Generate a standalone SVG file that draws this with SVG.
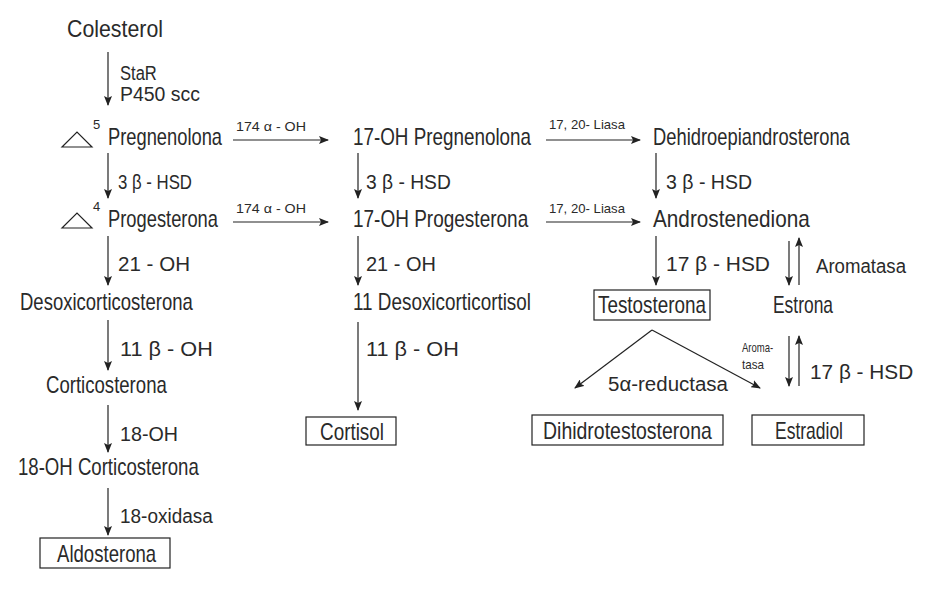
<svg xmlns="http://www.w3.org/2000/svg" width="950" height="600" viewBox="0 0 950 600">
<style>
text{font-family:"Liberation Sans",Arial,sans-serif;fill:#2a2a2a;}
.t{font-size:23px;}
.s{font-size:13px;}
.l{font-size:21px;}
line{stroke:#222;stroke-width:1.2;}
.box{fill:none;stroke:#222;stroke-width:1.2;}
</style>
<defs>
<marker id="ah" markerWidth="10" markerHeight="8" refX="9" refY="4" orient="auto" markerUnits="userSpaceOnUse">
<path d="M0,0 L10,4 L0,8 L2,4 Z" fill="#222"/>
</marker>
</defs>
<rect width="950" height="600" fill="#fff"/>
<g id="connectors">
<line x1="108" y1="52" x2="108" y2="105" marker-end="url(#ah)"/>
<line x1="233" y1="140" x2="328" y2="140" marker-end="url(#ah)"/>
<line x1="546" y1="140" x2="640" y2="140" marker-end="url(#ah)"/>
<line x1="108" y1="153" x2="108" y2="198" marker-end="url(#ah)"/>
<line x1="358" y1="153" x2="358" y2="198" marker-end="url(#ah)"/>
<line x1="656" y1="153" x2="656" y2="198" marker-end="url(#ah)"/>
<line x1="233" y1="222" x2="328" y2="222" marker-end="url(#ah)"/>
<line x1="546" y1="222" x2="640" y2="222" marker-end="url(#ah)"/>
<line x1="108" y1="236" x2="108" y2="285" marker-end="url(#ah)"/>
<line x1="358" y1="236" x2="358" y2="285" marker-end="url(#ah)"/>
<line x1="656" y1="236" x2="656" y2="285" marker-end="url(#ah)"/>
<line x1="789" y1="241" x2="789" y2="285" marker-end="url(#ah)"/>
<line x1="799" y1="285" x2="799" y2="238" marker-end="url(#ah)"/>
<line x1="108" y1="320" x2="108" y2="370" marker-end="url(#ah)"/>
<line x1="358" y1="322" x2="358" y2="410" marker-end="url(#ah)"/>
<line x1="652" y1="330" x2="575" y2="388" marker-end="url(#ah)"/>
<line x1="652" y1="330" x2="760" y2="388" marker-end="url(#ah)"/>
<line x1="789" y1="336" x2="789" y2="386" marker-end="url(#ah)"/>
<line x1="799" y1="386" x2="799" y2="336" marker-end="url(#ah)"/>
<line x1="108" y1="405" x2="108" y2="452" marker-end="url(#ah)"/>
<line x1="108" y1="488" x2="108" y2="535" marker-end="url(#ah)"/>
</g>
<g id="labels">
<text class="l" transform="translate(120,80) scale(0.8,1)" textLength="46" lengthAdjust="spacingAndGlyphs">StaR</text>
<text class="l" transform="translate(120,101) scale(0.8,1)" textLength="100" lengthAdjust="spacingAndGlyphs">P450 scc</text>
<text class="s" transform="translate(236,131) scale(0.8,1)" textLength="87.5" lengthAdjust="spacingAndGlyphs">174 α - OH</text>
<text class="s" transform="translate(236,213) scale(0.8,1)" textLength="87.5" lengthAdjust="spacingAndGlyphs">174 α - OH</text>
<text class="s" transform="translate(549,129) scale(0.8,1)" textLength="95" lengthAdjust="spacingAndGlyphs">17, 20- Liasa</text>
<text class="s" transform="translate(549,213) scale(0.8,1)" textLength="95" lengthAdjust="spacingAndGlyphs">17, 20- Liasa</text>
<text class="l" transform="translate(118,189) scale(0.8,1)" textLength="92.5" lengthAdjust="spacingAndGlyphs">3 β - HSD</text>
<text class="l" transform="translate(366,189) scale(0.8,1)" textLength="106" lengthAdjust="spacingAndGlyphs">3 β - HSD</text>
<text class="l" transform="translate(666,189) scale(0.8,1)" textLength="107.5" lengthAdjust="spacingAndGlyphs">3 β - HSD</text>
<text class="l" transform="translate(118,271) scale(0.8,1)" textLength="90" lengthAdjust="spacingAndGlyphs">21 - OH</text>
<text class="l" transform="translate(366,271) scale(0.8,1)" textLength="87.5" lengthAdjust="spacingAndGlyphs">21 - OH</text>
<text class="l" transform="translate(666,271) scale(0.8,1)" textLength="130" lengthAdjust="spacingAndGlyphs">17 β - HSD</text>
<text class="l" transform="translate(816,273) scale(0.8,1)" textLength="112.5" lengthAdjust="spacingAndGlyphs">Aromatasa</text>
<text class="l" transform="translate(120,356) scale(0.8,1)" textLength="116" lengthAdjust="spacingAndGlyphs">11 β  - OH</text>
<text class="l" transform="translate(366,356) scale(0.8,1)" textLength="116" lengthAdjust="spacingAndGlyphs">11 β  - OH</text>
<text class="l" transform="translate(608,391) scale(0.8,1)" textLength="150" lengthAdjust="spacingAndGlyphs">5α-reductasa</text>
<text class="s" transform="translate(742,352) scale(0.8,1)" textLength="39" lengthAdjust="spacingAndGlyphs">Aroma-</text>
<text class="s" transform="translate(742,369) scale(0.8,1)" textLength="27.5" lengthAdjust="spacingAndGlyphs">tasa</text>
<text class="l" transform="translate(810,379) scale(0.8,1)" textLength="129" lengthAdjust="spacingAndGlyphs">17 β  - HSD</text>
<text class="l" transform="translate(120,441) scale(0.8,1)" textLength="72.5" lengthAdjust="spacingAndGlyphs">18-OH</text>
<text class="l" transform="translate(120,523) scale(0.8,1)" textLength="116" lengthAdjust="spacingAndGlyphs">18-oxidasa</text>
</g>
<g id="colesterol"><text class="t" transform="translate(67,37) scale(0.8,1)" textLength="120" lengthAdjust="spacingAndGlyphs">Colesterol</text></g>
<g id="pregnenolona">
<path d="M62,147 L77,132 L92,147 Z" fill="none" stroke="#222" stroke-width="1.2"/>
<text class="s" x="93" y="129">5</text>
<text class="t" transform="translate(108,145) scale(0.8,1)" textLength="142.5" lengthAdjust="spacingAndGlyphs">Pregnenolona</text>
</g>
<g id="oh-pregnenolona"><text class="t" transform="translate(353,145) scale(0.8,1)" textLength="222.5" lengthAdjust="spacingAndGlyphs">17-OH Pregnenolona</text></g>
<g id="dhea"><text class="t" transform="translate(653,145) scale(0.8,1)" textLength="246" lengthAdjust="spacingAndGlyphs">Dehidroepiandrosterona</text></g>
<g id="progesterona">
<path d="M62,228 L77,213 L92,228 Z" fill="none" stroke="#222" stroke-width="1.2"/>
<text class="s" x="93" y="211">4</text>
<text class="t" transform="translate(108,227) scale(0.8,1)" textLength="137.5" lengthAdjust="spacingAndGlyphs">Progesterona</text>
</g>
<g id="oh-progesterona"><text class="t" transform="translate(353,227) scale(0.8,1)" textLength="219" lengthAdjust="spacingAndGlyphs">17-OH Progesterona</text></g>
<g id="androstenediona"><text class="t" transform="translate(653,227) scale(0.8,1)" textLength="196" lengthAdjust="spacingAndGlyphs">Androstenediona</text></g>
<g id="desoxicorticosterona"><text class="t" transform="translate(20,310) scale(0.8,1)" textLength="216" lengthAdjust="spacingAndGlyphs">Desoxicorticosterona</text></g>
<g id="desoxicortisol"><text class="t" transform="translate(353,310) scale(0.8,1)" textLength="222.5" lengthAdjust="spacingAndGlyphs">11 Desoxicorticortisol</text></g>
<g id="testosterona">
<rect class="box" x="594" y="290" width="116" height="30"/>
<text class="t" transform="translate(598,313) scale(0.8,1)" textLength="135" lengthAdjust="spacingAndGlyphs">Testosterona</text>
</g>
<g id="estrona"><text class="t" transform="translate(773,313) scale(0.8,1)" textLength="75" lengthAdjust="spacingAndGlyphs">Estrona</text></g>
<g id="corticosterona"><text class="t" transform="translate(46,393) scale(0.8,1)" textLength="151" lengthAdjust="spacingAndGlyphs">Corticosterona</text></g>
<g id="cortisol">
<rect class="box" x="306" y="417" width="90" height="28"/>
<text class="t" transform="translate(320,440) scale(0.8,1)" textLength="80" lengthAdjust="spacingAndGlyphs">Cortisol</text>
</g>
<g id="dihidrotestosterona">
<rect class="box" x="532" y="415" width="191" height="30"/>
<text class="t" transform="translate(543,439) scale(0.8,1)" textLength="211" lengthAdjust="spacingAndGlyphs">Dihidrotestosterona</text>
</g>
<g id="estradiol">
<rect class="box" x="752" y="415" width="112" height="30"/>
<text class="t" transform="translate(775,439) scale(0.8,1)" textLength="85" lengthAdjust="spacingAndGlyphs">Estradiol</text>
</g>
<g id="oh-corticosterona"><text class="t" transform="translate(18,475) scale(0.8,1)" textLength="226" lengthAdjust="spacingAndGlyphs">18-OH Corticosterona</text></g>
<g id="aldosterona">
<rect class="box" x="40" y="538" width="130" height="30"/>
<text class="t" transform="translate(57,562) scale(0.8,1)" textLength="124" lengthAdjust="spacingAndGlyphs">Aldosterona</text>
</g>
</svg>
